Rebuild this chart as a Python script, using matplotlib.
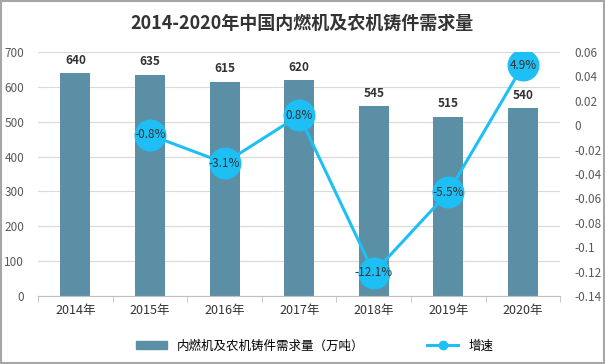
import matplotlib
matplotlib.use("Agg")
import matplotlib.pyplot as plt
from matplotlib.lines import Line2D
from matplotlib.patches import Patch
import numpy as np

plt.rcParams['font.family'] = ['Noto Sans CJK SC', 'DejaVu Sans']

years = ['2014年', '2015年', '2016年', '2017年', '2018年', '2019年', '2020年']
demand = [640, 635, 615, 620, 545, 515, 540]
growth_years_idx = [1, 2, 3, 4, 5, 6]
growth = [-0.008, -0.031, 0.008, -0.121, -0.055, 0.049]
growth_labels = ['-0.8%', '-3.1%', '0.8%', '-12.1%', '-5.5%', '4.9%']

bar_color = '#5B8FA6'
line_color = '#1DBFF5'
tick_color = '#595959'

fig = plt.figure(figsize=(6.05, 3.64), dpi=100)
ax = fig.add_axes([0.063, 0.187, 0.863, 0.670])
x = np.arange(len(years))
ax.bar(x, demand, width=0.4, color=bar_color, zorder=2)
for xi, v in zip(x, demand):
    ax.text(xi, v + 18, str(v), ha='center', va='bottom', fontsize=8.5,
            fontweight='bold', color='#333333')
ax.set_ylim(0, 700)
ax.set_yticks(range(0, 701, 100))
ax.set_xlim(-0.5, len(years) - 0.5)
ax.set_xticks(x)
ax.set_xticklabels(years, fontsize=9, color='#333333')
ax.set_xticks(np.arange(-0.5, len(years), 1), minor=True)
ax.tick_params(axis='x', which='major', length=0, pad=6)
ax.tick_params(axis='x', which='minor', length=4, color='#BFBFBF')
ax.tick_params(axis='y', length=0, labelsize=8.5, labelcolor=tick_color, pad=10)
ax.grid(axis='y', color='#D9D9D9', linewidth=0.8, zorder=0)
for s in ['top', 'right', 'left']:
    ax.spines[s].set_visible(False)
ax.spines['bottom'].set_color('#BFBFBF')

ax2 = ax.twinx()
ax2.plot(growth_years_idx, growth, color=line_color, linewidth=2.2, zorder=3,
         marker='o', markersize=22, markerfacecolor=line_color,
         markeredgecolor=line_color)
for xi, g, lab in zip(growth_years_idx, growth, growth_labels):
    ax2.text(xi, g, lab, ha='center', va='center', fontsize=8.5,
             color='#333333', zorder=5)
ax2.set_ylim(-0.14, 0.06)
ax2.set_yticks(np.round(np.arange(-0.14, 0.0601, 0.02), 2))
ax2.set_yticklabels(['-0.14', '-0.12', '-0.1', '-0.08', '-0.06', '-0.04',
                     '-0.02', '0', '0.02', '0.04', '0.06'])
ax2.tick_params(axis='y', length=0, labelsize=8.5, labelcolor=tick_color, pad=10)
for s in ['top', 'right', 'left', 'bottom']:
    ax2.spines[s].set_visible(False)

fig.text(0.5, 0.935, '2014-2020年中国内燃机及农机铸件需求量', ha='center',
         va='center', fontsize=13, fontweight='bold', color='#333333')

handles = [Patch(color=bar_color),
           Line2D([0], [0], color=line_color, linewidth=2.2, marker='o',
                  markersize=6)]
fig.legend(handles, ['内燃机及农机铸件需求量（万吨）', '增速'], loc='center',
           bbox_to_anchor=(0.52, 0.05), ncol=2, frameon=False, fontsize=9,
           handlelength=2.5, columnspacing=5)

fig.patches.append(plt.Rectangle((0.001, 0.002), 0.997, 0.996,
                                 transform=fig.transFigure, fill=False,
                                 edgecolor='#A6A6A6', linewidth=1.5))
fig.savefig('out.png', dpi=100)
